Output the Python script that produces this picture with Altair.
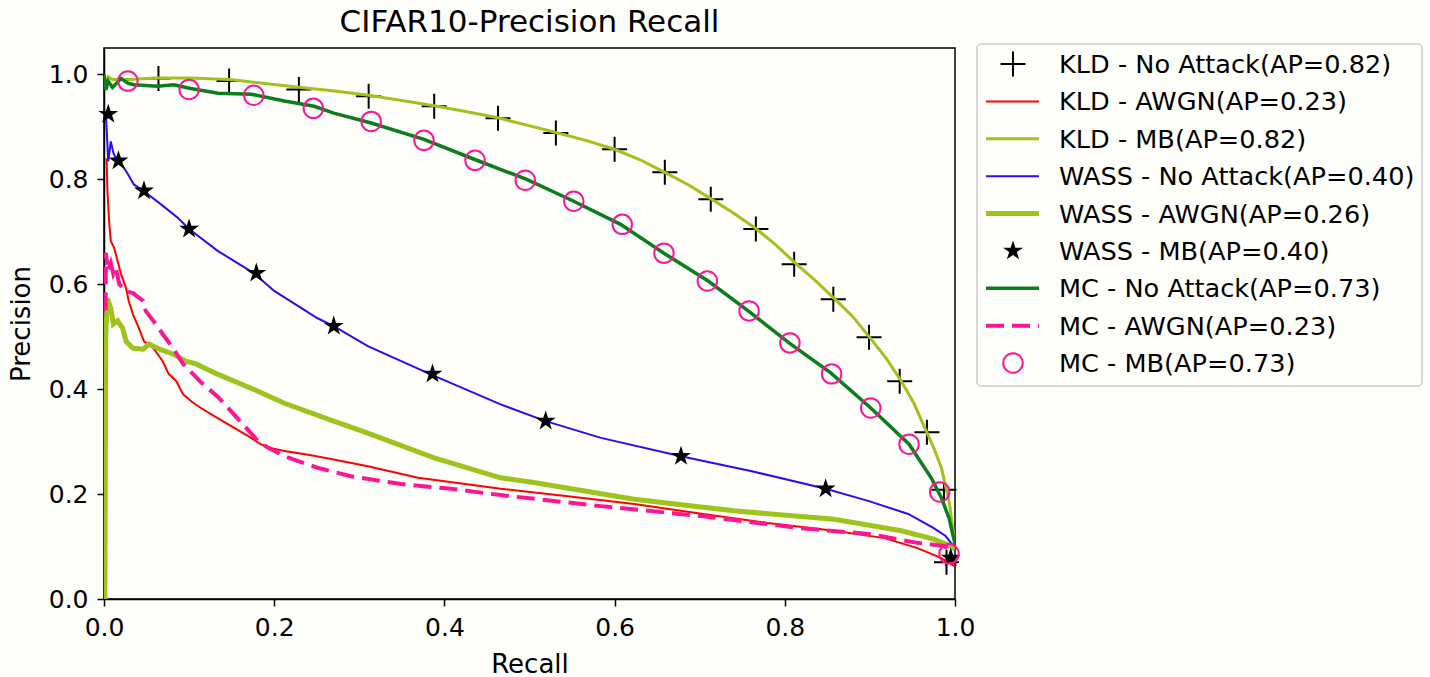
import math
import altair as alt
import pandas as pd

FONT = "DejaVu Sans"
BG = "#fefefa"
TITLE = "CIFAR10-Precision Recall"

LABELS = [
    "KLD - No Attack(AP=0.82)",
    "KLD - AWGN(AP=0.23)",
    "KLD - MB(AP=0.82)",
    "WASS - No Attack(AP=0.40)",
    "WASS - AWGN(AP=0.26)",
    "WASS - MB(AP=0.40)",
    "MC - No Attack(AP=0.73)",
    "MC - AWGN(AP=0.23)",
    "MC - MB(AP=0.73)",
]

X_TICKS = [0.0, 0.2, 0.4, 0.6, 0.8, 1.0]
Y_TICKS = [0.0, 0.2, 0.4, 0.6, 0.8, 1.0]

# KLD - No Attack (markers only)
kld_na_rec = [0.064, 0.147, 0.229, 0.311, 0.388, 0.463, 0.531, 0.600, 0.659, 0.713,
              0.766, 0.811, 0.857, 0.899, 0.935, 0.967, 0.987, 0.990]
kld_na_prec = [0.992, 0.987, 0.971, 0.958, 0.939, 0.916, 0.888, 0.857, 0.813, 0.762,
               0.705, 0.638, 0.571, 0.499, 0.415, 0.318, 0.208, 0.070]

# KLD - AWGN
kld_awgn_rec = [0.003, 0.004, 0.006, 0.008, 0.012, 0.016, 0.020, 0.026, 0.029, 0.034,
                0.041, 0.047, 0.058, 0.069, 0.076, 0.085, 0.093, 0.104, 0.114, 0.133,
                0.153, 0.170, 0.184, 0.198, 0.212, 0.240, 0.270, 0.310, 0.369, 0.420,
                0.466, 0.545, 0.623, 0.700, 0.780, 0.858, 0.917, 0.956, 0.984, 1.0]
kld_awgn_prec = [0.84, 0.78, 0.72, 0.682, 0.669, 0.644, 0.619, 0.592, 0.568, 0.543,
                 0.516, 0.491, 0.478, 0.453, 0.429, 0.415, 0.390, 0.375, 0.364, 0.345,
                 0.326, 0.310, 0.295, 0.287, 0.282, 0.275, 0.266, 0.253, 0.231, 0.220,
                 0.210, 0.196, 0.181, 0.163, 0.145, 0.130, 0.116, 0.097, 0.078, 0.062]

# KLD - MB
kld_mb_rec = [0.0, 0.002, 0.005, 0.010, 0.030, 0.060, 0.100, 0.147, 0.229, 0.271,
              0.311, 0.350, 0.388, 0.425, 0.463, 0.497, 0.531, 0.566, 0.600, 0.630,
              0.659, 0.687, 0.713, 0.740, 0.766, 0.790, 0.811, 0.835, 0.858, 0.880,
              0.899, 0.919, 0.937, 0.952, 0.964, 0.975, 0.984, 0.993, 1.0]
kld_mb_prec = [1.0, 0.985, 0.995, 0.990, 0.990, 0.993, 0.993, 0.990, 0.975, 0.968,
               0.960, 0.950, 0.940, 0.929, 0.917, 0.903, 0.889, 0.874, 0.857, 0.837,
               0.813, 0.789, 0.763, 0.735, 0.706, 0.674, 0.642, 0.608, 0.573, 0.538,
               0.500, 0.459, 0.415, 0.372, 0.328, 0.288, 0.250, 0.187, 0.105]

# WASS - No Attack
wass_na_rec = [0.002, 0.003, 0.005, 0.008, 0.011, 0.014, 0.020, 0.028, 0.035, 0.047,
               0.067, 0.087, 0.100, 0.134, 0.176, 0.200, 0.251, 0.270, 0.310, 0.384,
               0.466, 0.519, 0.584, 0.678, 0.760, 0.848, 0.898, 0.945, 0.975, 0.989, 1.0]
wass_na_prec = [0.93, 0.90, 0.834, 0.872, 0.850, 0.840, 0.830, 0.810, 0.790, 0.777,
                0.752, 0.726, 0.705, 0.663, 0.621, 0.587, 0.535, 0.520, 0.482, 0.428,
                0.371, 0.339, 0.307, 0.272, 0.244, 0.210, 0.187, 0.162, 0.135, 0.120, 0.097]

# WASS - AWGN
wass_awgn_rec = [0.001, 0.002, 0.004, 0.008, 0.011, 0.016, 0.022, 0.026, 0.034, 0.046,
                 0.053, 0.065, 0.081, 0.096, 0.108, 0.134, 0.181, 0.212, 0.270, 0.310,
                 0.388, 0.466, 0.505, 0.623, 0.740, 0.858, 0.937, 0.975, 0.995, 1.0]
wass_awgn_prec = [0.0, 0.50, 0.573, 0.554, 0.524, 0.530, 0.516, 0.491, 0.478, 0.476,
                  0.486, 0.476, 0.467, 0.453, 0.448, 0.428, 0.396, 0.373, 0.339, 0.316,
                  0.269, 0.231, 0.222, 0.190, 0.168, 0.152, 0.130, 0.114, 0.101, 0.095]

# WASS - MB (markers only)
wass_mb_rec = [0.005, 0.017, 0.047, 0.100, 0.179, 0.270, 0.386, 0.519, 0.678, 0.848, 0.995]
wass_mb_prec = [0.924, 0.835, 0.778, 0.705, 0.621, 0.520, 0.429, 0.339, 0.272, 0.210, 0.078]

# MC - No Attack
mc_na_rec = [0.0, 0.002, 0.005, 0.010, 0.020, 0.028, 0.035, 0.063, 0.082, 0.102,
             0.134, 0.173, 0.212, 0.247, 0.270, 0.314, 0.376, 0.435, 0.496, 0.552,
             0.607, 0.658, 0.710, 0.757, 0.805, 0.854, 0.901, 0.946, 0.972, 0.984, 0.993, 1.0]
mc_na_prec = [1.0, 0.970, 0.987, 0.975, 0.992, 0.983, 0.980, 0.977, 0.980, 0.973,
              0.964, 0.962, 0.949, 0.939, 0.926, 0.907, 0.876, 0.838, 0.800, 0.758,
              0.714, 0.659, 0.606, 0.549, 0.488, 0.431, 0.364, 0.295, 0.231, 0.193, 0.154, 0.105]

# MC - AWGN
mc_awgn_rec = [0.002, 0.002, 0.005, 0.008, 0.011, 0.014, 0.018, 0.026, 0.034, 0.046,
               0.049, 0.058, 0.069, 0.081, 0.093, 0.114, 0.134, 0.161, 0.181,
               0.193, 0.212, 0.251, 0.290, 0.349, 0.408, 0.466, 0.584, 0.702, 0.819,
               0.898, 0.956, 0.987, 0.998]
mc_awgn_prec = [0.55, 0.66, 0.625, 0.640, 0.619, 0.630, 0.600, 0.587, 0.583, 0.568,
                0.549, 0.530, 0.505, 0.478, 0.448, 0.413, 0.385, 0.337, 0.301,
                0.288, 0.272, 0.250, 0.234, 0.219, 0.210, 0.198, 0.177, 0.158, 0.135,
                0.124, 0.107, 0.101, 0.090]

# MC - MB (markers only)
mc_mb_rec = [0.028, 0.100, 0.176, 0.246, 0.314, 0.376, 0.436, 0.495, 0.552, 0.609,
             0.658, 0.709, 0.758, 0.806, 0.855, 0.901, 0.946, 0.982, 0.993]
mc_mb_prec = [0.987, 0.971, 0.960, 0.935, 0.910, 0.874, 0.836, 0.798, 0.758, 0.714,
              0.659, 0.606, 0.549, 0.488, 0.429, 0.364, 0.295, 0.204, 0.086]

# ---------------- styles ----------------
YG = "#9ec41c"
CROSS = "M-1,0L1,0M0,-1L0,1"


def star_path(r_in=0.382):
    pts = []
    for k in range(10):
        ang = math.radians(-90 + 36 * k)
        r = 1.0 if k % 2 == 0 else r_in
        pts.append(f"{r * math.cos(ang):.4f},{r * math.sin(ang):.4f}")
    return "M" + "L".join(pts) + "Z"


STAR = star_path()

STYLES = [
    dict(kind="marker", shape=CROSS, filled=False, color="black", sw=2, size=625),
    dict(kind="line", color="#ff0000", sw=2),
    dict(kind="line", color=YG, sw=3),
    dict(kind="line", color="#2a0cf5", sw=2),
    dict(kind="line", color=YG, sw=5),
    dict(kind="marker", shape=STAR, filled=True, color="black", sw=0, size=441),
    dict(kind="line", color="#0b7d1c", sw=3.5),
    dict(kind="line", color="#ff1493", sw=4, dash=[18, 8]),
    dict(kind="marker", shape="circle", filled=False, color="#ff1493", sw=2, size=380),
]

SERIES = [
    (kld_na_rec, kld_na_prec),
    (kld_awgn_rec, kld_awgn_prec),
    (kld_mb_rec, kld_mb_prec),
    (wass_na_rec, wass_na_prec),
    (wass_awgn_rec, wass_awgn_prec),
    (wass_mb_rec, wass_mb_prec),
    (mc_na_rec, mc_na_prec),
    (mc_awgn_rec, mc_awgn_prec),
    (mc_mb_rec, mc_mb_prec),
]

X = alt.X(
    "recall:Q",
    scale=alt.Scale(domain=[0, 1], nice=False, zero=False),
    axis=alt.Axis(values=X_TICKS, format=".1f", labelFlush=False, title="Recall",
                  titlePadding=11),
)
Y = alt.Y(
    "precision:Q",
    scale=alt.Scale(domain=[0, 1.05], nice=False),
    axis=alt.Axis(values=Y_TICKS, format=".1f", title="Precision", titlePadding=14),
)


def mark_for(st, chart, legend=False):
    if st["kind"] == "line":
        kw = dict(color=st["color"], strokeWidth=st["sw"])
        if "dash" in st:
            kw["strokeDash"] = st["dash"]
        if legend:
            return chart.mark_rule(**kw)
        return chart.mark_line(clip=True, **kw)
    kw = dict(shape=st["shape"], size=st["size"], opacity=1)
    if st["filled"]:
        kw.update(filled=True, fill=st["color"], strokeWidth=0)
    else:
        kw.update(filled=False, stroke=st["color"], strokeWidth=st["sw"], fill=None)
    return chart.mark_point(**kw)


layers = []
for (rec, prec), st in zip(SERIES, STYLES):
    df = pd.DataFrame({"recall": rec, "precision": prec, "idx": list(range(len(rec)))})
    base = alt.Chart(df)
    m = mark_for(st, base)
    if st["kind"] == "line":
        layers.append(m.encode(x=X, y=Y, order="idx:Q"))
    else:
        layers.append(m.encode(x=X, y=Y))

main = alt.layer(*layers).properties(
    width=851,
    height=551,
    title=alt.TitleParams(TITLE, fontSize=31, font=FONT, fontWeight="normal",
                          anchor="middle", offset=9, color="black"),
    view=alt.ViewBackground(stroke="black", strokeWidth=1.5, fill=BG),
)

# ---------------- legend panel ----------------
leg_df = pd.DataFrame({"name": LABELS})
yL = alt.Y("name:N", scale=alt.Scale(type="point", domain=LABELS, range=[16, 315], padding=0),
           axis=None)

leg_layers = [
    alt.Chart(pd.DataFrame({"name": [LABELS[0]]})).mark_rect(
        fill=BG, stroke="#cccccc", strokeWidth=1.5, cornerRadius=4
    ).encode(x=alt.value(0), x2=alt.value(445), y=alt.value(-4), y2=alt.value(338))
]
for lab, st in zip(LABELS, STYLES):
    c = alt.Chart(leg_df).transform_filter(alt.datum.name == lab)
    m = mark_for(st, c, legend=True)
    if st["kind"] == "line":
        leg_layers.append(m.encode(x=alt.value(9), x2=alt.value(62), y=yL))
    else:
        leg_layers.append(m.encode(x=alt.value(36), y=yL))
leg_layers.append(
    alt.Chart(leg_df).mark_text(align="left", baseline="middle", fontSize=25.6, font=FONT,
                                color="black", dy=1).encode(x=alt.value(82), y=yL, text="name:N")
)
legend = alt.layer(*leg_layers).properties(
    width=445, height=338, view=alt.ViewBackground(stroke=None)
)

chart = alt.hconcat(main, legend, spacing=22, bounds="flush").properties(
    background=BG,
    padding={"left": 7, "top": 6, "right": 0, "bottom": 0},
).configure_axis(
    labelFont=FONT, labelFontSize=25, labelColor="black",
    titleFont=FONT, titleFontSize=26, titleFontWeight="normal", titleColor="black",
    domainColor="black", domainWidth=1.5, tickColor="black", tickWidth=1.5, tickSize=7,
    labelPadding=9, grid=False,
)

chart.save("out.html", embed_options={"renderer": "svg", "actions": False})
